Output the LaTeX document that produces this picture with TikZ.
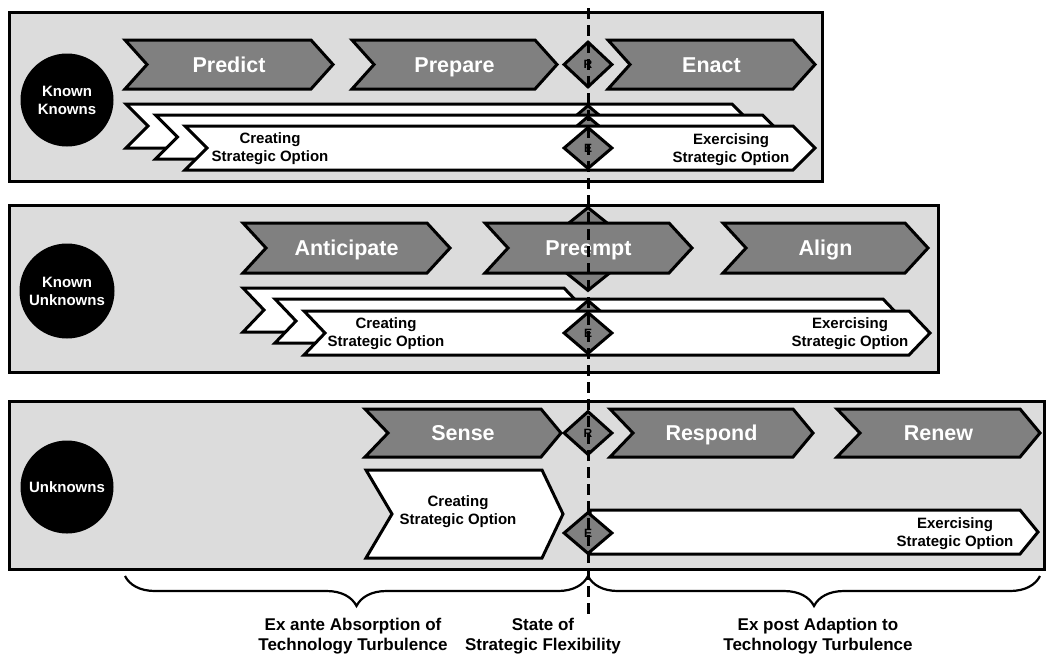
\documentclass[tikz,border=0pt]{standalone}
\usepackage{fontspec}
\setmainfont{Liberation Sans}
\usetikzlibrary{positioning, shapes.geometric, decorations.pathreplacing}
\definecolor{panelgray}{HTML}{DCDCDC}
\definecolor{phasegray}{HTML}{808080}

% chevron: style, name, left, tip, top, bottom, notch depth, point depth
\newcommand{\chev}[8]{%
  \draw[#1] (#3,#5) -- ({#4-#8},#5) -- (#4,{(#5+#6)/2}) -- ({#4-#8},#6)
    -- (#3,#6) -- ({#3+#7},{(#5+#6)/2}) -- cycle;
  \coordinate (#2) at ({(#3+#4)/2},{(#5+#6)/2});
}

\begin{document}
\begin{tikzpicture}[x=1pt, y=-1pt,
    panel/.style={draw=black, line width=3pt, fill=panelgray},
    phase/.style={draw=black, line width=3pt, fill=phasegray},
    option/.style={draw=black, line width=3pt, fill=white},
    phaselabel/.style={text=white, inner sep=0, text height=15.5pt, text depth=0pt,
      font=\fontsize{21.5}{24}\selectfont\bfseries},
    optlabel/.style={inner sep=0, align=center, font=\fontsize{15}{18}\selectfont\bfseries},
    level/.style={circle, fill=black, minimum size=93pt, inner sep=0, text=white,
      align=center, font=\fontsize{15}{18}\selectfont\bfseries},
    gate/.style={diamond, draw=black, line width=3pt, fill=phasegray, inner sep=0,
      minimum width=49pt, minimum height=42pt, font=\fontsize{12}{12}\selectfont\bfseries},
    caption/.style={inner sep=0, align=center, font=\fontsize{17}{20}\selectfont\bfseries}]
  \useasboundingbox (0,0) rectangle (1046,657);

  % known knowns
  \draw[panel] (9,12) rectangle (822,181);
  \node[level] (kk) at (67,100) {Known\\Knowns};
  \chev{phase}{p1}{125}{333}{40}{89}{22}{22}
  \node[phaselabel] (predict) at (p1) {Predict};
  \chev{phase}{p2}{352}{557}{40}{89}{22}{22}
  \node[phaselabel] (prepare) at (p2) {Prepare};
  \node[gate, minimum height=46pt] (r1) at (588,64.5) {R};
  \chev{phase}{p3}{608}{815}{40}{89}{22}{22}
  \node[phaselabel] (enact) at (p3) {Enact};
  \foreach \i in {0,1,2} {
    \chev{option}{o1\i}{126+29.5*\i}{754+30.5*\i}{104+11*\i}{148+11*\i}{22}{22}
    \node[gate] (e1\i) at (588,126+11*\i) {E};
  }
  \node[optlabel] (create1) at (270,149) {Creating\\Strategic Option};
  \node[optlabel] (exercise1) at (731,150) {Exercising\\Strategic Option};

  % known unknowns
  \draw[panel] (9,205) rectangle (938,372);
  \node[level, minimum size=95pt] (ku) at (67,291) {Known\\Unknowns};
  \chev{phase}{p4}{243}{450}{223}{273}{23}{23}
  \node[phaselabel] (anticipate) at (p4) {Anticipate};
  \node[gate, minimum width=104pt, minimum height=84pt] (r2) at (588,249) {};
  \chev{phase}{p5}{485}{692}{223}{273}{23}{23}
  \node[phaselabel] (preempt) at (p5) {Preempt};
  \chev{phase}{p6}{723}{928}{223}{273}{23}{23}
  \node[phaselabel] (align) at (p6) {Align};
  \chev{option}{o20}{243}{585}{288}{332}{21}{21}
  \chev{option}{o21}{275}{904}{299}{343}{21}{21}
  \node[gate] (e21) at (588,321) {E};
  \chev{option}{o22}{304}{930}{311}{355}{21}{21}
  \node[gate] (e22) at (588,333) {E};
  \node[optlabel] (create2) at (386,334) {Creating\\Strategic Option};
  \node[optlabel] (exercise2) at (850,334) {Exercising\\Strategic Option};

  % unknowns
  \draw[panel] (9,401) rectangle (1044,569);
  \node[level] (uu) at (67,487) {Unknowns};
  \chev{phase}{p7}{365}{561}{409}{457}{23}{20}
  \node[phaselabel] (sense) at (p7) {Sense};
  \node[gate, minimum height=44pt] (r3) at (588,433) {R};
  \chev{phase}{p8}{610}{813}{409}{457}{23}{20}
  \node[phaselabel] (respond) at (p8) {Respond};
  \chev{phase}{p9}{837}{1040}{409}{457}{23}{20}
  \node[phaselabel] (renew) at (p9) {Renew};
  \chev{option}{o30}{366}{563}{470}{558}{26}{21}
  \node[optlabel] (create3) at (458,512) {Creating\\Strategic Option};
  \chev{option}{o31}{590}{1038}{510}{554}{0}{18}
  \node[gate] (e3) at (588,533) {E};
  \node[optlabel] (exercise3) at (955,534) {Exercising\\Strategic Option};

  % flexibility line
  \coordinate (linetop) at (588,8);
  \coordinate (linefoot) at (588,614);
  \draw[line width=3pt, dash pattern=on 11pt off 6pt] (linetop) -- (linefoot);

  \coordinate (bl) at (125,576);
  \coordinate (bm) at (588,576);
  \coordinate (br) at (1040,576);
  \draw[line width=2.2pt, decorate, decoration={brace, mirror, amplitude=30pt}] (bl) -- (bm);
  \draw[line width=2.2pt, decorate, decoration={brace, mirror, amplitude=30pt}] (bm) -- (br);
  \node[caption] (exante) at (353,636) {Ex ante Absorption of\\Technology Turbulence};
  \node[caption] (state) at (543,636) {State of\\Strategic Flexibility};
  \node[caption] (expost) at (818,636) {Ex post Adaption to\\Technology Turbulence};
\end{tikzpicture}
\end{document}
